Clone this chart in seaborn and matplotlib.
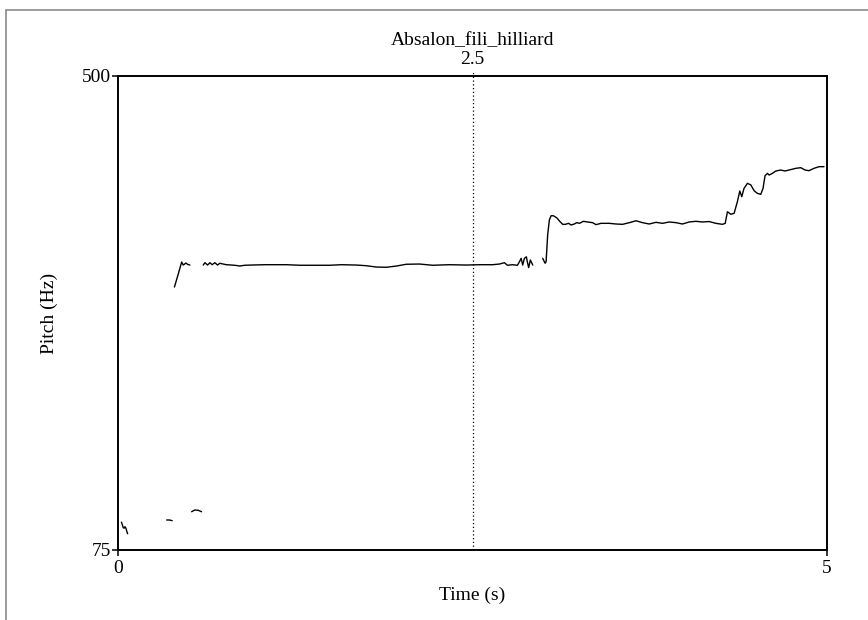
import numpy as np
import pandas as pd
import matplotlib
matplotlib.use("Agg")
import matplotlib.pyplot as plt
from matplotlib.patches import Rectangle
import seaborn as sns

title = "Absalon_fili_hilliard"
cursor_time = 2.5
x_ticks = [0, 5]
y_ticks = [75, 500]

# Voiced stretches of the pitch track: time (s) and F0 (Hz)
seg1_t = [0.024, 0.031, 0.037, 0.044, 0.049, 0.056, 0.062, 0.068]
seg1_f = [100.0, 97.5, 95.0, 94.6, 95.9, 94.6, 91.8, 89.6]

seg2_t = [0.343, 0.363, 0.382]
seg2_f = [101.9, 101.9, 101.3]

seg3_t = [0.519, 0.542, 0.566, 0.589]
seg3_f = [109.3, 110.9, 110.6, 109.3]

seg4_t = [0.398, 0.423, 0.449, 0.460, 0.479, 0.493, 0.507]
seg4_f = [310.8, 321.6, 333.2, 330.5, 332.3, 331.0, 330.5]

seg5_t = [0.601, 0.613, 0.632, 0.648, 0.664, 0.683, 0.702, 0.718, 0.742, 0.765,
          0.801, 0.836, 0.859, 0.894, 0.942, 1.035, 1.153, 1.188, 1.282, 1.373,
          1.493, 1.575, 1.681, 1.751, 1.822, 1.892, 1.963, 2.033, 2.127, 2.218,
          2.338, 2.456, 2.549, 2.641, 2.690, 2.725, 2.746, 2.782, 2.817, 2.831,
          2.843, 2.854, 2.866, 2.880, 2.887, 2.896, 2.908, 2.925]
seg5_f = [330.5, 332.6, 330.5, 332.6, 330.8, 332.6, 330.5, 332.1, 331.4, 330.8,
          330.5, 330.1, 329.6, 330.3, 330.5, 330.8, 330.8, 330.8, 330.3, 330.3,
          330.3, 330.8, 330.5, 329.9, 328.7, 328.5, 329.6, 331.2, 331.4, 330.3,
          330.8, 330.5, 330.8, 330.8, 331.4, 332.6, 330.3, 330.8, 330.3, 333.5,
          336.5, 330.5, 336.5, 337.9, 333.2, 328.2, 335.0, 330.5]

seg6_t = [2.995, 3.012, 3.019, 3.030, 3.042, 3.054, 3.070, 3.094, 3.113, 3.136,
          3.155, 3.178, 3.195, 3.218, 3.235, 3.254, 3.282, 3.312, 3.347, 3.371,
          3.406, 3.465, 3.512, 3.558, 3.606, 3.653, 3.699, 3.746, 3.794, 3.840,
          3.887, 3.935, 3.981, 4.028, 4.075, 4.122, 4.169, 4.216, 4.263, 4.282,
          4.298, 4.322, 4.345, 4.368, 4.385, 4.399, 4.415, 4.439, 4.463, 4.486,
          4.509, 4.533, 4.549, 4.563, 4.580, 4.592, 4.615, 4.639, 4.674, 4.704,
          4.732, 4.780, 4.815, 4.845, 4.873, 4.908, 4.944, 4.979]
seg6_f = [336.5, 332.1, 333.5, 357.4, 370.9, 374.7, 374.7, 372.9, 370.0, 367.0,
          367.0, 367.9, 366.4, 367.3, 368.5, 367.9, 369.7, 369.1, 368.5, 366.7,
          367.9, 367.9, 367.3, 367.0, 368.5, 370.2, 368.5, 367.3, 368.8, 367.9,
          369.1, 368.5, 367.3, 369.1, 369.7, 369.1, 369.5, 367.9, 367.0, 367.9,
          378.3, 376.0, 376.9, 387.3, 396.9, 391.8, 399.3, 403.8, 402.3, 397.1,
          394.8, 393.9, 399.3, 410.6, 412.7, 411.2, 412.7, 414.8, 415.7, 414.8,
          415.7, 417.2, 417.8, 415.7, 415.1, 417.2, 418.7, 418.7]

segments = [(seg1_t, seg1_f), (seg2_t, seg2_f), (seg3_t, seg3_f),
            (seg4_t, seg4_f), (seg5_t, seg5_f), (seg6_t, seg6_f)]
frames = [pd.DataFrame({"time": t, "pitch": f, "seg": i})
          for i, (t, f) in enumerate(segments)]
df = pd.concat(frames, ignore_index=True)

sns.set_theme(style="white")
plt.rcParams["font.family"] = ["Liberation Serif", "DejaVu Serif"]

FS = 14
W, H = 868, 620
fig = plt.figure(figsize=(W / 100, H / 100), dpi=100)
fig.patch.set_facecolor("white")

# Outer picture frame
fig.patches.append(Rectangle((6 / W, -0.1), 1.2, 1 - 10 / H + 0.1,
                             transform=fig.transFigure, fill=False,
                             edgecolor="#8a8a8a", linewidth=1.2))

left, right = 118 / W, 827 / W
bottom, top = 1 - 550 / H, 1 - 76 / H
ax = fig.add_axes([left, bottom, right - left, top - bottom])

sns.lineplot(data=df, x="time", y="pitch", units="seg", estimator=None,
             color="black", linewidth=1.0, ax=ax, legend=False, sort=False)

ax.set_xlim(0, 5)
ax.set_ylim(75, 500)

for s in ax.spines.values():
    s.set_color("black")
    s.set_linewidth(1.4)

ax.set_xticks(x_ticks)
ax.set_xticklabels([str(v) for v in x_ticks])
ax.set_yticks(y_ticks)
ax.set_yticklabels([str(v) for v in y_ticks])
ax.tick_params(axis="both", direction="out", length=4, width=1.1,
               color="black", labelsize=FS, labelcolor="black", pad=1,
               bottom=True, left=True)
ax.tick_params(axis="x", pad=3)

ax.set_xlabel("Time (s)", fontsize=FS, color="black", labelpad=7)
ax.set_ylabel("Pitch (Hz)", fontsize=FS, color="black", labelpad=17)

# Cursor line at 2.5 s, extending slightly above the frame
ax.plot([cursor_time, cursor_time], [75, 500 + 425 * 6 / 474], color="black",
        linestyle=(0, (1, 2)), linewidth=0.9, clip_on=False)
ax.text(cursor_time, 500 + 425 * 8 / 474, f"{cursor_time:g}", ha="center",
        va="bottom", fontsize=FS, color="black")
ax.text(2.5, 500 + 425 * 27 / 474, title, ha="center", va="bottom",
        fontsize=FS, color="black")

fig.savefig("out.png", dpi=100, facecolor="white")
